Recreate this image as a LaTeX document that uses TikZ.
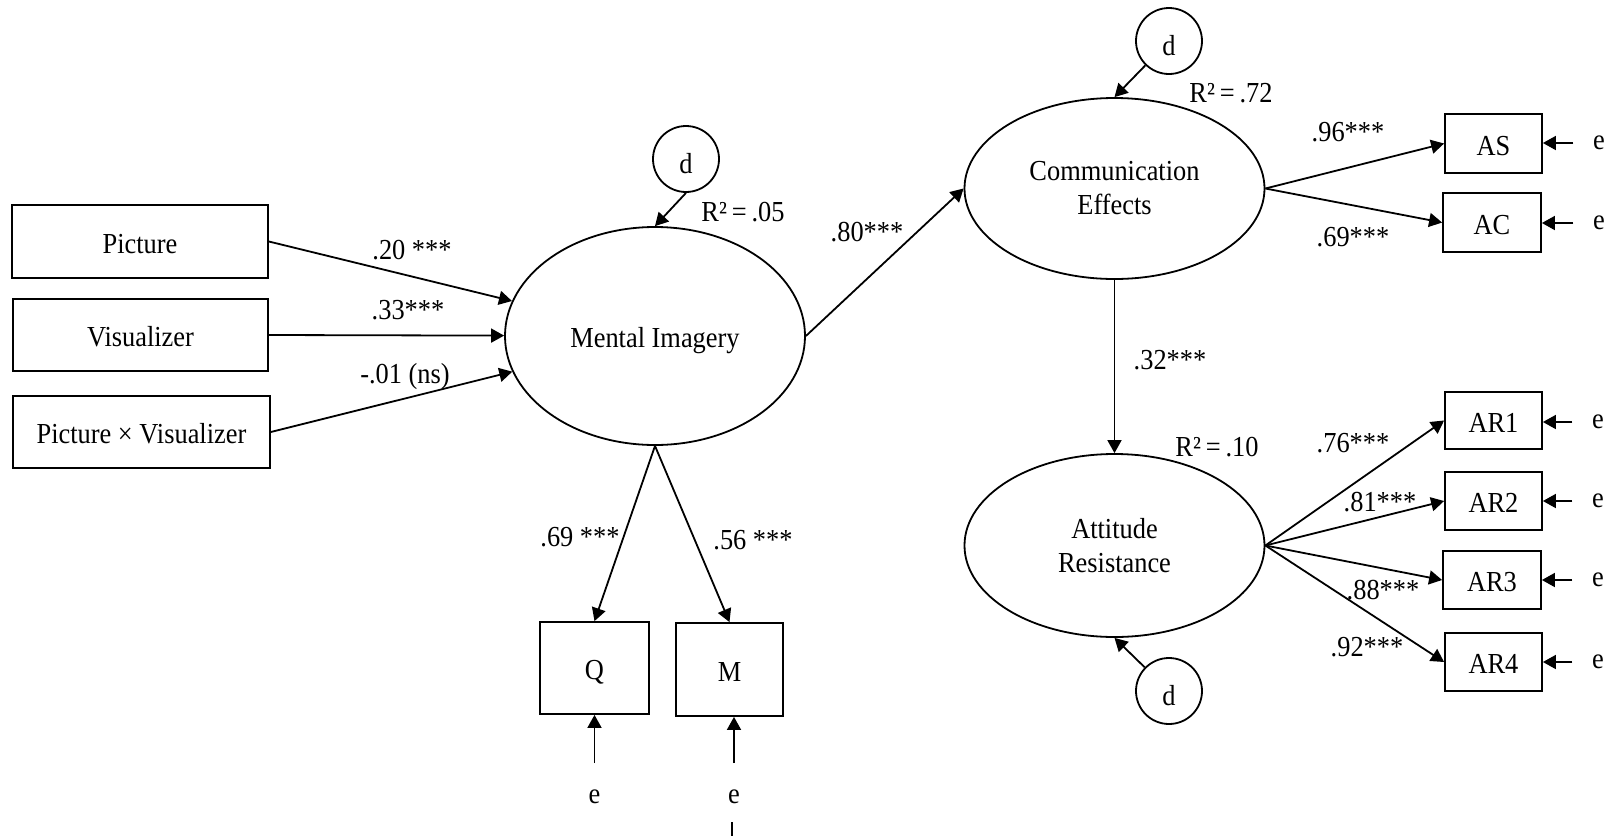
\documentclass[tikz,border=0pt]{standalone}
\usepackage{fontspec}
\setmainfont{Liberation Serif}[FakeStretch=0.91]
\usetikzlibrary{arrows.meta,shapes.geometric}

\begin{document}
\begin{tikzpicture}[x=0.5pt, y=-0.5pt, line width=0.9pt,
  every node/.style={font=\fontsize{14.5}{17}\selectfont, inner sep=0pt},
  txt/.style={text height=12.6pt, text depth=1pt},
  obs/.style={draw, rectangle, txt},
  lat/.style={draw, ellipse, align=center, minimum width=150pt},
  dist/.style={draw, circle, minimum size=33pt, text height=14pt, text depth=0pt},
  arr/.style={-{Triangle[length=6.5pt,width=7pt]}}]
  \useasboundingbox (0,0) rectangle (1614,836);
  % predictors
  \node[obs, minimum width=128pt, minimum height=36.5pt] (pic) at (140,241.5) {Picture};
  \node[obs, minimum width=127.5pt, minimum height=36pt] (vis) at (140.5,335) {Visualizer};
  \node[obs, minimum width=128.5pt, minimum height=36pt] (pxv) at (141.5,432) {Picture × Visualizer};
  % latent variables
  \node[lat, txt, minimum height=109pt] (mi) at (655,336) {Mental Imagery};
  \node[lat, minimum height=90.5pt] (ce) at (1114.5,188.5) {Communication\\Effects};
  \node[lat, minimum height=91.5pt] (ar) at (1114.5,545.5) {Attitude\\Resistance};
  \node[dist] (d1) at (686,159) {d};
  \node[dist] (d2) at (1169,41) {d};
  \node[dist] (d3) at (1169,691) {d};
  % indicators
  \node[obs, minimum width=54.5pt, minimum height=46pt] (q) at (594.5,668) {Q};
  \node[obs, minimum width=53.5pt, minimum height=46.5pt] (m) at (729.5,669.5) {M};
  \node[obs, minimum width=48.5pt, minimum height=29.5pt] (as) at (1493.5,143.5) {AS};
  \node[obs, minimum width=49pt, minimum height=29.5pt] (ac) at (1492,222.5) {AC};
  \node[obs, minimum width=48.5pt, minimum height=28.5pt] (ar1) at (1493.5,420.5) {AR1};
  \node[obs, minimum width=48.5pt, minimum height=29pt] (ar2) at (1493.5,501) {AR2};
  \node[obs, minimum width=49pt, minimum height=29pt] (ar3) at (1492,580) {AR3};
  \node[obs, minimum width=48.5pt, minimum height=29pt] (ar4) at (1493.5,662) {AR4};
  % errors
  \node (e1) at (594.5,797) {e};
  \node (e2) at (734,797) {e};
  \node (e3) at (1599,143) {e};
  \node (e4) at (1599,223) {e};
  \node (e5) at (1598,422) {e};
  \node (e6) at (1598,501) {e};
  \node (e7) at (1598,580) {e};
  \node (e8) at (1598,662) {e};
  % coefficients
  \node (w1) at (412,250) {.20 ***};
  \node (w2) at (408,310) {.33***};
  \node (w3) at (405,377) {-.01 (ns)};
  \node (w4) at (867,232) {.80***};
  \node (w5) at (580,537) {.69 ***};
  \node (w6) at (753,540) {.56 ***};
  \node (w7) at (1348,132) {.96***};
  \node (w8) at (1353,237) {.69***};
  \node (w9) at (1170,360) {.32***};
  \node (w10) at (1353,443) {.76***};
  \node (w11) at (1380,502) {.81***};
  \node (w12) at (1383,590) {.88***};
  \node (w13) at (1367,647) {.92***};
  \node (r1) at (743,212) {R²\,=\,.05};
  \node (r2) at (1231,93) {R²\,=\,.72};
  \node (r3) at (1217,447) {R²\,=\,.10};
  % paths
  \draw[arr] (pic.east) -- (mi);
  \draw[arr] (vis.east) -- (mi);
  \draw[arr] (pxv.east) -- (mi);
  \draw[arr] (d1.south) -- (mi.north);
  \draw[arr] (mi.east) -- (ce.west);
  \draw[arr] (mi.south) -- (q.north);
  \draw[arr] (mi.south) -- (m.north);
  \draw[arr, shorten <=13pt] (e1) -- (q);
  \draw[arr, shorten <=13pt] (e2.north) -- (e2 |- m.south);
  \draw[arr] (d2) -- (ce.north);
  \draw[arr] (ce.east) -- (as.west);
  \draw[arr] (ce.east) -- (ac.west);
  \draw[arr] (ce.south) -- (ar.north);
  \draw[arr] (d3) -- (ar.south);
  \draw[arr] (ar.east) -- (ar1.west);
  \draw[arr] (ar.east) -- (ar2.west);
  \draw[arr] (ar.east) -- (ar3.west);
  \draw[arr] (ar.east) -- (ar4.west);
  \draw[arr, shorten <=9.5pt] (e3.west) -- (e3 -| as.east);
  \draw[arr, shorten <=9.5pt] (e4.west) -- (e4 -| ac.east);
  \draw[arr, shorten <=9.5pt] (e5.west) -- (e5 -| ar1.east);
  \draw[arr, shorten <=9.5pt] (e6.west) -- (e6 -| ar2.east);
  \draw[arr, shorten <=9.5pt] (e7.west) -- (e7 -| ar3.east);
  \draw[arr, shorten <=9.5pt] (e8.west) -- (e8 -| ar4.east);
  \coordinate (t1) at (732,822);
  \coordinate (t2) at (732,836);
  \draw (t1) -- (t2);
\end{tikzpicture}
\end{document}
